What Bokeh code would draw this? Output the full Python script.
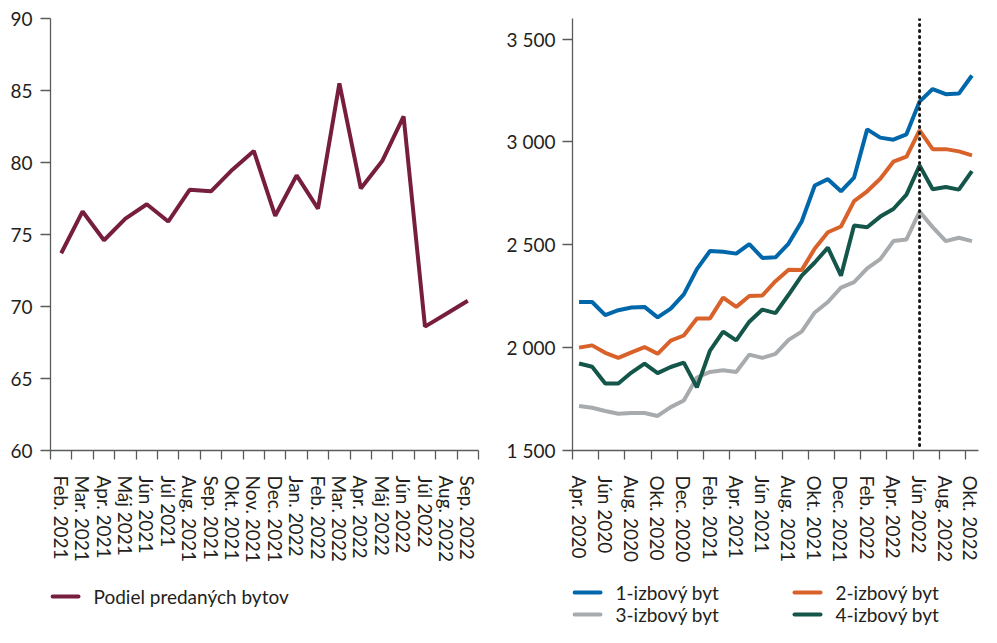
from bokeh.plotting import figure
from bokeh.layouts import row, column
from bokeh.models import Range1d, FixedTicker, Span
from bokeh.core.properties import value
from bokeh.embed import file_html
from bokeh.resources import INLINE

# ---------------- data ----------------
left_months = ["Feb. 2021", "Mar. 2021", "Apr. 2021", "Máj 2021", "Jún 2021", "Júl 2021",
               "Aug. 2021", "Sep. 2021", "Okt. 2021", "Nov. 2021", "Dec. 2021", "Jan. 2022",
               "Feb. 2022", "Mar. 2022", "Apr. 2022", "Máj 2022", "Jún 2022", "Júl 2022",
               "Aug. 2022", "Sep. 2022"]
podiel = [73.7, 76.6, 74.6, 76.1, 77.1, 75.9, 78.1, 78.0, 79.5, 80.8,
          76.3, 79.1, 76.8, 85.5, 78.2, 80.1, 83.2, 68.6, 69.5, 70.4]
left_yticks = [60, 65, 70, 75, 80, 85, 90]

right_labels = ["Apr. 2020", "Jún 2020", "Aug. 2020", "Okt. 2020", "Dec. 2020", "Feb. 2021",
                "Apr. 2021", "Jún 2021", "Aug. 2021", "Okt. 2021", "Dec. 2021", "Feb. 2022",
                "Apr. 2022", "Jún 2022", "Aug. 2022", "Okt. 2022"]
byt1 = [2222, 2222, 2158, 2182, 2195, 2198, 2147, 2190, 2259, 2382, 2470, 2466, 2457, 2503,
        2436, 2439, 2506, 2613, 2788, 2819, 2760, 2827, 3061, 3021, 3011, 3037, 3196, 3257,
        3232, 3235, 3323]
byt2 = [2000, 2011, 1975, 1950, 1977, 2003, 1970, 2034, 2059, 2142, 2142, 2243, 2198, 2251,
        2254, 2323, 2379, 2377, 2482, 2561, 2589, 2712, 2760, 2821, 2904, 2928, 3056, 2965,
        2965, 2954, 2935]
byt3 = [1716, 1708, 1692, 1679, 1682, 1682, 1668, 1711, 1743, 1855, 1882, 1890, 1882, 1966,
        1950, 1970, 2038, 2078, 2171, 2222, 2292, 2318, 2385, 2430, 2518, 2526, 2661, 2586,
        2518, 2534, 2518]
byt4 = [1923, 1907, 1826, 1826, 1879, 1922, 1876, 1906, 1927, 1807, 1986, 2078, 2035, 2126,
        2185, 2168, 2257, 2350, 2414, 2486, 2350, 2594, 2585, 2637, 2674, 2744, 2885, 2770,
        2781, 2768, 2858]
right_yticks = [1500, 2000, 2500, 3000, 3500]
marker_month = 26  # Jún 2022

series_names = ["1-izbový byt", "2-izbový byt", "3-izbový byt", "4-izbový byt"]
series_colors = ["#0067ab", "#d9622b", "#a8abad", "#14574a"]
left_name = "Podiel predaných bytov"
left_color = "#771e3e"

FONT = "Lato"
TXT = "#231f20"
AXC = "#5a5b5d"
FS = "19px"

MAIN_H = 577
LEG_H = 50
W1, W2 = 484, 497
B1L, B1R = 50, 6      # left chart borders
B2L, B2R = 88, 3      # right chart borders
SW_W, SW_GAP = 26, 15


def style(p):
    p.outline_line_color = None
    p.xgrid.visible = False
    p.ygrid.visible = False
    for ax in (p.xaxis[0], p.yaxis[0]):
        ax.axis_line_color = AXC
        ax.axis_line_width = 1.3
        ax.major_tick_line_color = AXC
        ax.major_tick_line_width = 1.3
        ax.minor_tick_line_color = AXC
        ax.minor_tick_line_width = 1.3
        ax.major_label_text_font = FONT
        ax.major_label_text_font_size = FS
        ax.major_label_text_color = TXT
    xa = p.xaxis[0]
    xa.major_tick_out = 0
    xa.major_tick_in = 0
    xa.minor_tick_out = 9
    xa.minor_tick_in = 0
    xa.major_label_standoff = 16
    xa.major_label_orientation = "vertical"
    ya = p.yaxis[0]
    ya.major_tick_out = 10
    ya.major_tick_in = 0
    ya.minor_tick_out = 0
    ya.minor_tick_in = 0


def legend_fig(width, bl, br):
    # frame is aligned with the chart frame above; map x to pixels from frame left, y downward
    fw = width - bl - br
    f = figure(width=width, height=LEG_H, output_backend="svg", toolbar_location=None,
               x_axis_location=None, y_axis_location=None,
               x_range=Range1d(0, fw), y_range=Range1d(LEG_H, 0),
               min_border_left=bl, min_border_right=br,
               min_border_top=0, min_border_bottom=0)
    f.outline_line_color = None
    f.xgrid.visible = False
    f.ygrid.visible = False
    return f


def add_items(f, labels, colors, xs, ys):
    f.segment(x0=xs, y0=ys, x1=[x + SW_W for x in xs], y1=ys, line_color=colors,
              line_width=4, line_cap="round")
    f.text(x=[x + SW_W + SW_GAP for x in xs], y=ys, text=labels,
           text_font=value(FONT), text_font_size=FS, text_color=TXT,
           text_baseline="middle", text_align="left")


# ---------------- left chart ----------------
p1 = figure(width=W1, height=MAIN_H, output_backend="svg", toolbar_location=None,
            x_range=Range1d(-0.5, len(podiel) - 0.5), y_range=Range1d(60, 90),
            min_border_left=B1L, min_border_right=B1R, min_border_top=18, min_border_bottom=127)
xs1 = list(range(len(podiel)))
p1.line(xs1, podiel, line_color=left_color, line_width=4)
style(p1)
p1.xaxis[0].ticker = FixedTicker(ticks=xs1, minor_ticks=[i - 0.5 for i in range(len(podiel) + 1)])
p1.xaxis[0].major_label_overrides = {i: lab for i, lab in enumerate(left_months)}
p1.yaxis[0].ticker = FixedTicker(ticks=left_yticks, minor_ticks=[])
p1.yaxis[0].major_label_standoff = 8

l1 = legend_fig(W1, B1L, B1R)
add_items(l1, [left_name], [left_color], [2], [19])

# ---------------- right chart ----------------
n = len(byt1)
xs2 = list(range(n))
p2 = figure(width=W2, height=MAIN_H, output_backend="svg", toolbar_location=None,
            x_range=Range1d(-0.5, n - 0.5), y_range=Range1d(1500, 3600),
            min_border_left=B2L, min_border_right=B2R, min_border_top=18, min_border_bottom=127)
for ys, c in zip([byt1, byt2, byt3, byt4], series_colors):
    p2.line(xs2, ys, line_color=c, line_width=4)
p2.add_layout(Span(location=marker_month, dimension="height", line_color="#1a1a1a",
                   line_width=3, line_dash="1 5", line_cap="round"))
style(p2)
label_pos = list(range(0, n, 2))
p2.xaxis[0].ticker = FixedTicker(ticks=label_pos, minor_ticks=[i - 0.5 for i in label_pos])
p2.xaxis[0].major_label_overrides = {pos: lab for pos, lab in zip(label_pos, right_labels)}
p2.yaxis[0].ticker = FixedTicker(ticks=right_yticks, minor_ticks=[])
p2.yaxis[0].major_label_overrides = {t: f"{t:,}".replace(",", " ") for t in right_yticks}
p2.yaxis[0].major_label_standoff = 7

l2 = legend_fig(W2, B2L, B2R)
add_items(l2, series_names, series_colors, [2, 222, 2, 222], [15, 15, 37, 37])

layout = row(column(p1, l1), column(p2, l2))
open("out.html", "w").write(file_html(layout, INLINE))
